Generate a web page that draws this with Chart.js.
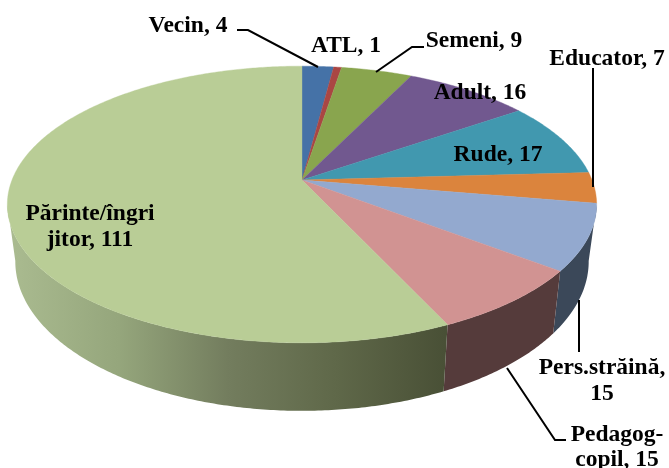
<!DOCTYPE html>
<html><head><meta charset="utf-8">
<style>html,body{margin:0;padding:0;background:#fff}canvas{display:block}</style>
<script src="https://cdn.jsdelivr.net/npm/chart.js@4/dist/chart.umd.min.js"></script>
</head><body><canvas id="c" width="669" height="468"></canvas>
<script>
const categories = ["Vecin","ATL","Semeni","Adult","Rude","Educator","Pers.străină","Pedagog-copil","Părinte/îngrijitor"];
const values = [4,1,9,16,17,7,15,15,111];
const topColors = ["#4572A7","#AA4643","#89A54E","#71588F","#4198AF","#DB843D","#93A9CF","#D19392","#B9CD96"];
const sideColors = ["#2b4668","#692b2a","#556630","#463758","#285e6c","#884f26","#3b4859","#553b3b",null];
const labelLines = [["Vecin, 4"],["ATL, 1"],["Semeni, 9"],["Adult, 16"],["Rude, 17"],["Educator, 7"],["Pers.străină,","15"],["Pedagog-","copil, 15"],["Părinte/îngri","jitor, 111"]];

// appearance of the tilted disc
const view = {cx:302, k:0.177, rx:290, top:{cy:180, ry:134, s:1}, bottom:{cy:235, ry:144.7, s:0.973}};
const labelSpots = [[188,32],[346,52],[474,47],[480,99],[498,161],[607,65],[602,374],[617,441],[90,220]];
const lineGap = [0,0,0,0,0,0,26,25,26];
const leaders = [[[237,30],[248,30],[318,67]],[[376,72],[412,47],[424,47]],[[593,68],[593,187]],[[579,300],[579,352]],[[507,368],[555,440],[566,440]]];

function project(a, plane){
  const u=Math.cos(a), v=Math.sin(a), w=1/(1-view.k*v);
  return [view.cx+view.rx*plane.s*u*w, plane.cy+plane.ry*v*w];
}
const sideFrom=Math.PI*100/180-Math.PI/2, sideTo=Math.PI*260/180-Math.PI/2;

const disc3d = {
  id:'disc3d',
  beforeDatasetDraw(chart,args){
    const ctx=chart.ctx, arcs=chart.getDatasetMeta(args.index).data;
    const grad=ctx.createLinearGradient(10,0,445,0);
    grad.addColorStop(0,"#aabb90");
    grad.addColorStop(0.25,"#95a67c");
    grad.addColorStop(0.5,"#737d5e");
    grad.addColorStop(0.75,"#5f6849");
    grad.addColorStop(1,"#495036");
    ctx.save();
    arcs.forEach((el,i)=>{
      const a0=Math.max(el.startAngle,sideFrom), a1=Math.min(el.endAngle,sideTo);
      if(a1<=a0) return;
      const n=Math.max(2,Math.ceil((a1-a0)/0.01));
      ctx.beginPath();
      for(let j=0;j<=n;j++){const p=project(a0+(a1-a0)*j/n,view.top); j?ctx.lineTo(p[0],p[1]):ctx.moveTo(p[0],p[1]);}
      for(let j=n;j>=0;j--){const p=project(a0+(a1-a0)*j/n,view.bottom); ctx.lineTo(p[0],p[1]);}
      ctx.closePath();
      ctx.fillStyle=sideColors[i]||grad; ctx.fill();
    });
    arcs.forEach((el,i)=>{
      const a0=el.startAngle,a1=el.endAngle,n=Math.max(2,Math.ceil((a1-a0)/0.01));
      ctx.beginPath();
      ctx.moveTo(view.cx,view.top.cy);
      for(let j=0;j<=n;j++){const p=project(a0+(a1-a0)*j/n,view.top); ctx.lineTo(p[0],p[1]);}
      ctx.closePath();
      ctx.fillStyle=el.options.backgroundColor; ctx.fill();
      ctx.strokeStyle=el.options.backgroundColor; ctx.lineWidth=0.4; ctx.stroke();
    });
    ctx.restore();
    return false;
  },
  afterDatasetsDraw(chart){
    const ctx=chart.ctx;
    ctx.save();
    ctx.strokeStyle="#000"; ctx.lineWidth=2; ctx.lineJoin="miter";
    leaders.forEach(l=>{ctx.beginPath();l.forEach((p,j)=>j?ctx.lineTo(p[0],p[1]):ctx.moveTo(p[0],p[1]));ctx.stroke();});
    ctx.fillStyle="#000"; ctx.textAlign="center"; ctx.textBaseline="alphabetic";
    ctx.font='bold 23.5px "Liberation Serif"';
    labelLines.forEach((ls,i)=>ls.forEach((t,j)=>ctx.fillText(t,labelSpots[i][0],labelSpots[i][1]+j*lineGap[i])));
    ctx.restore();
  }
};

new Chart(document.getElementById('c'),{
  type:'pie',
  data:{labels:categories,datasets:[{data:values,backgroundColor:topColors,borderWidth:0}]},
  options:{responsive:false,animation:false,plugins:{legend:{display:false},tooltip:{enabled:false}}},
  plugins:[disc3d]
});
</script></body></html>
